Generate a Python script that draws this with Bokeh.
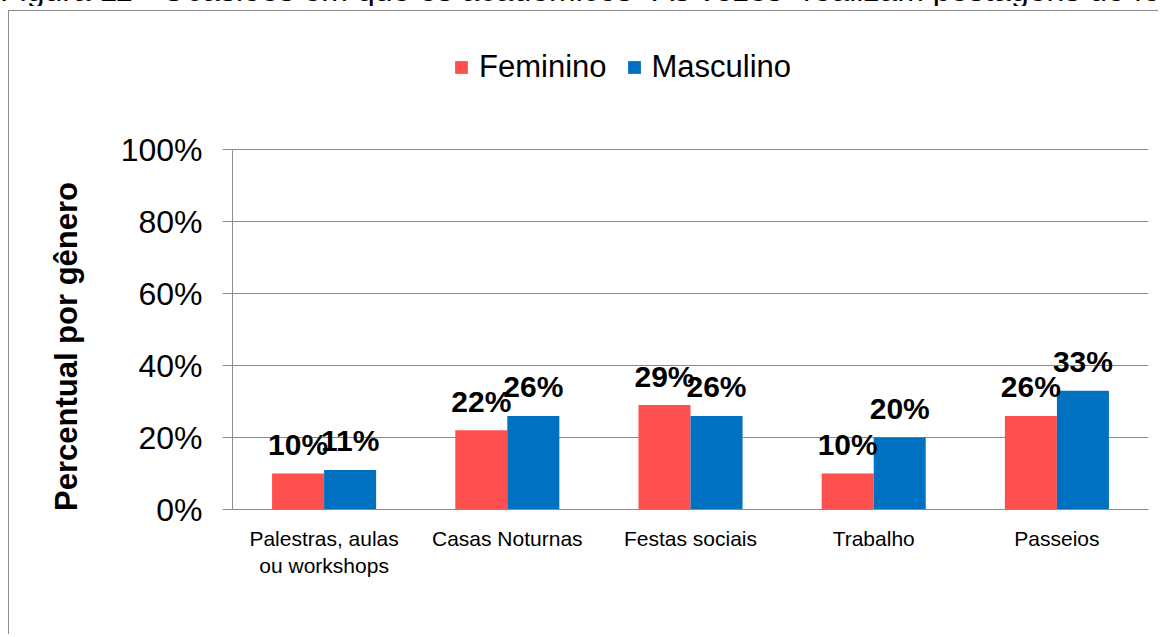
from bokeh.plotting import figure
from bokeh.models import (ColumnDataSource, FactorRange, Legend, LegendItem, Div,
                          FixedTicker, PrintfTickFormatter, Range1d)
from bokeh.transform import dodge
from bokeh.layouts import column
from bokeh.embed import file_html
from bokeh.resources import INLINE
from bokeh.core.properties import value

# ---- data ----
categories = ["Palestras, aulas\nou workshops", "Casas Noturnas", "Festas sociais", "Trabalho", "Passeios"]
feminino = [10, 22, 29, 10, 26]
masculino = [11, 26, 26, 20, 33]
series_names = ["Feminino", "Masculino"]
y_ticks = [0, 20, 40, 60, 80, 100]
y_label = "Percentual por gênero"
title_text = 'Figura 11 - Ocasiões em que os acadêmicos "Às vezes" realizam postagens de fotos'

FONT = "Liberation Sans"
RED = "#ff5050"
BLUE = "#0070c0"
GRID = "#8c8c8c"

src = ColumnDataSource(dict(
    cat=categories,
    f=feminino,
    m=masculino,
    fl=[f"{v}%" for v in feminino],
    ml=[f"{v}%" for v in masculino],
))

# layout geometry (canvas pixels)
W, H = 1150, 624
TOP_100 = 138          # canvas y of the 100% gridline
BOTTOM_0 = 498         # canvas y of the 0% baseline
MIN_TOP = 17           # frame extended above 100% so the legend stays inside it
px_per_unit = (BOTTOM_0 - TOP_100) / 100.0
y_end = 100 + (TOP_100 - MIN_TOP) / px_per_unit

p = figure(x_range=FactorRange(*categories), y_range=Range1d(0, y_end),
           width=W, height=H, output_backend="svg", toolbar_location=None,
           min_border_left=223, min_border_right=W - 1139, min_border_top=MIN_TOP,
           min_border_bottom=H - BOTTOM_0, margin=(0, 0, 0, 8))
p.styles = {"border-left": "1px solid #8c8c8c", "border-top": "1px solid #8c8c8c"}
p.outline_line_color = None
p.background_fill_color = "white"
p.border_fill_color = "white"

BW = 0.284
r1 = p.vbar(x=dodge("cat", -BW / 2, range=p.x_range), top="f", width=BW,
            source=src, fill_color=RED, line_color=None)
r2 = p.vbar(x=dodge("cat", BW / 2, range=p.x_range), top="m", width=BW,
            source=src, fill_color=BLUE, line_color=None)

for key, lab, off in (("f", "fl", -BW / 2), ("m", "ml", BW / 2)):
    p.text(x=dodge("cat", off, range=p.x_range), y=key, text=lab, source=src,
           text_font=value(FONT), text_font_style="bold", text_font_size="30px",
           text_align="center", text_baseline="alphabetic", y_offset=-29,
           text_color="black")

# axes
p.xgrid.grid_line_color = None
p.ygrid.grid_line_color = GRID
p.ygrid.ticker = FixedTicker(ticks=y_ticks)

xa = p.xaxis[0]
xa.axis_line_color = GRID
xa.major_tick_line_color = None
xa.minor_tick_line_color = None
xa.major_label_text_font = FONT
xa.major_label_text_font_size = "21px"
xa.major_label_text_color = "black"
xa.major_label_standoff = 11

ya = p.yaxis[0]
ya.ticker = FixedTicker(ticks=y_ticks)
ya.bounds = (0, 100)
ya.formatter = PrintfTickFormatter(format="%d%%")
ya.axis_line_color = GRID
ya.major_tick_line_color = GRID
ya.major_tick_out = 10
ya.major_tick_in = 0
ya.minor_tick_line_color = None
ya.major_label_text_font = FONT
ya.major_label_text_font_size = "32px"
ya.major_label_text_color = "black"
ya.major_label_standoff = 20
# em spaces after the title keep it centred on the 0-100% part of the axis
ya.axis_label = y_label + "\u2003" * 5
ya.axis_label_text_font = FONT
ya.axis_label_text_font_style = "bold"
ya.axis_label_text_font_size = "31px"
ya.axis_label_text_color = "black"
ya.axis_label_standoff = 34

legend = Legend(items=[LegendItem(label=series_names[0], renderers=[r1]),
                       LegendItem(label=series_names[1], renderers=[r2])],
                orientation="horizontal", location=(221, 424),
                glyph_width=16, glyph_height=16, label_standoff=10, spacing=19,
                padding=0, margin=0, border_line_color=None,
                background_fill_alpha=0, label_text_font=FONT,
                label_text_font_size="31px", label_text_color="black")
p.add_layout(legend, "center")

title_html = ('<div style="position:relative; top:-25px; left:0px; width:1161px; '
              'height:31px; overflow:hidden; white-space:nowrap; '
              'font-family:\'Liberation Sans\'; font-size:32px; line-height:31px; '
              'color:black;">' + title_text + '</div>')
div = Div(text=title_html, width=1161, height=10, margin=0,
          styles={"overflow": "visible"})

layout = column(div, p, spacing=0)
open("out.html", "w").write(file_html(layout, INLINE))
